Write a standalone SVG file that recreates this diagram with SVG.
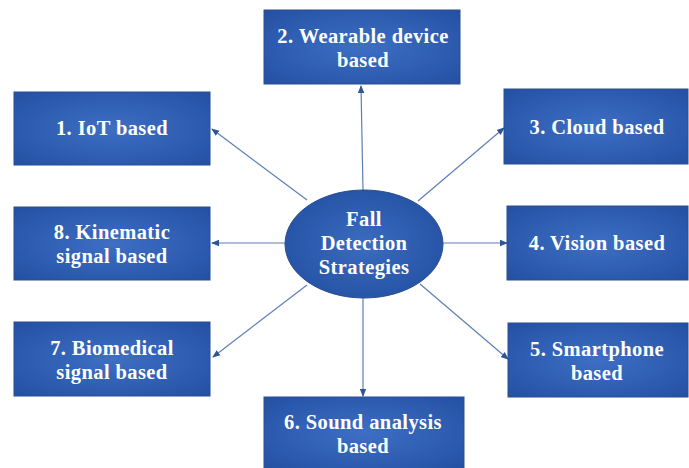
<svg xmlns="http://www.w3.org/2000/svg" width="689" height="468" viewBox="0 0 689 468">
<defs>
<radialGradient id="g" cx="50%" cy="50%" r="70%">
<stop offset="0" stop-color="#3d6fc4"/>
<stop offset="1" stop-color="#2450a3"/>
</radialGradient>
<radialGradient id="ge" cx="50%" cy="50%" r="55%">
<stop offset="0" stop-color="#3a6cc0"/>
<stop offset="1" stop-color="#2552a5"/>
</radialGradient>
<marker id="a" markerWidth="8" markerHeight="8" refX="7" refY="4" orient="auto" markerUnits="userSpaceOnUse">
<path d="M0,0.8 L8,4 L0,7.2 Z" fill="#2e5596"/>
</marker>
</defs>
<style>
.b{fill:url(#g);stroke:#2a4f8f;stroke-width:1}
.t{font-family:"Liberation Serif",serif;font-size:20.5px;font-weight:bold;letter-spacing:0.4px;fill:#ffffff;text-anchor:middle}
.c{stroke:#5c7fb5;stroke-width:1.2;fill:none;marker-end:url(#a)}
</style>
<rect width="689" height="468" fill="#ffffff"/>
<g id="connectors">
<line class="c" x1="363" y1="190" x2="361" y2="86"/>
<line class="c" x1="307" y1="200" x2="212" y2="129"/>
<line class="c" x1="418" y1="201" x2="504" y2="128"/>
<line class="c" x1="285" y1="243" x2="212" y2="243"/>
<line class="c" x1="443" y1="243" x2="507" y2="243"/>
<line class="c" x1="307" y1="285" x2="213" y2="357"/>
<line class="c" x1="420" y1="284" x2="508" y2="359"/>
<line class="c" x1="363" y1="298" x2="363" y2="396"/>
</g>
<g id="n2"><rect class="b" x="264" y="10" width="196" height="74"/><text class="t" x="363" y="43">2. Wearable device</text><text class="t" x="363" y="67">based</text></g>
<g id="n1"><rect class="b" x="14" y="92" width="196" height="73"/><text class="t" x="112" y="135">1. IoT based</text></g>
<g id="n3"><rect class="b" x="504" y="89" width="184" height="75"/><text class="t" x="597" y="134">3. Cloud based</text></g>
<g id="n8"><rect class="b" x="14" y="207" width="196" height="73"/><text class="t" x="112" y="239">8. Kinematic</text><text class="t" x="112" y="263">signal based</text></g>
<g id="n4"><rect class="b" x="507" y="206" width="181" height="74"/><text class="t" x="597" y="250">4. Vision based</text></g>
<g id="n7"><rect class="b" x="14" y="322" width="196" height="74"/><text class="t" x="112" y="355">7. Biomedical</text><text class="t" x="112" y="379">signal based</text></g>
<g id="n5"><rect class="b" x="508" y="323" width="180" height="74"/><text class="t" x="597" y="356">5. Smartphone</text><text class="t" x="597" y="380">based</text></g>
<g id="n6"><rect class="b" x="264" y="397" width="200" height="72"/><text class="t" x="363" y="429">6. Sound analysis</text><text class="t" x="363" y="453">based</text></g>
<g id="center"><ellipse cx="364" cy="244" rx="79" ry="54" fill="url(#ge)" stroke="#2a4f8f" stroke-width="1"/><text class="t" x="364" y="226">Fall</text><text class="t" x="364" y="250">Detection</text><text class="t" x="364" y="274">Strategies</text></g>
</svg>
